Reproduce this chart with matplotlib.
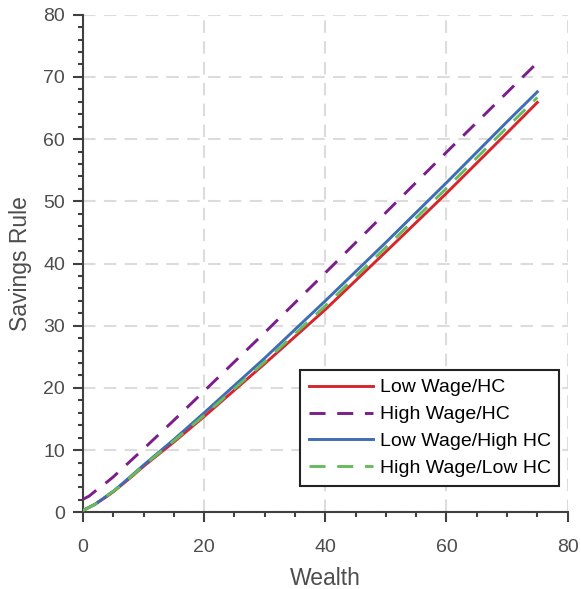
import numpy as np
import matplotlib.pyplot as plt
from matplotlib.ticker import MultipleLocator

# wealth grid and savings rules
wealth = [0, 1, 2, 4, 5, 6, 8, 10, 15, 20, 30, 40, 50, 60, 70, 75]

low_wage_hc = [0.3, 0.8, 1.3, 2.6, 3.3, 4.1, 5.7, 7.4, 11.3, 15.4, 23.9, 32.6,
               41.9, 51.3, 61.0, 65.9]
high_wage_hc = [2.1, 2.6, 3.4, 4.9, 5.7, 6.6, 8.4, 10.2, 14.8, 19.5, 28.9,
                38.5, 48.2, 57.9, 67.5, 72.3]
low_wage_high_hc = [0.35, 0.8, 1.3, 2.7, 3.4, 4.2, 5.9, 7.6, 11.7, 16.0, 24.8,
                    34.0, 43.4, 53.0, 62.8, 67.6]
high_wage_low_hc = [0.3, 0.8, 1.3, 2.7, 3.4, 4.1, 5.8, 7.5, 11.5, 15.6, 24.2,
                    33.2, 42.6, 52.1, 61.9, 66.7]

labels = ["Low Wage/HC", "High Wage/HC", "Low Wage/High HC", "High Wage/Low HC"]

plt.rcParams["font.family"] = ["Liberation Sans", "DejaVu Sans"]

txt_col = "#4d4d4d"
ax_col = "#404040"

fig = plt.figure(figsize=(5.81, 5.89), dpi=100)
ax = fig.add_axes([0.1429, 0.1302, 0.8341, 0.8448])

ax.plot(wealth, low_wage_hc, color="#d7262b", lw=2.1, label=labels[0], zorder=3)
ax.plot(wealth, high_wage_hc, color="#7b1e8c", lw=2.1, dashes=(5.5, 4),
        label=labels[1], zorder=3)
ax.plot(wealth, low_wage_high_hc, color="#3f6db3", lw=2.1, label=labels[2],
        zorder=3)
ax.plot(wealth, high_wage_low_hc, color="#66bb5e", lw=2.1, dashes=(5.5, 4),
        label=labels[3], zorder=3)

ax.set_xlim(0, 80)
ax.set_ylim(0, 80)
ax.xaxis.set_major_locator(MultipleLocator(20))
ax.xaxis.set_minor_locator(MultipleLocator(5))
ax.yaxis.set_major_locator(MultipleLocator(10))
ax.yaxis.set_minor_locator(MultipleLocator(2))

ax.grid(True, which="major", color="#dcdcdc", lw=1.5, dashes=(6, 4), zorder=0)
ax.set_axisbelow(True)

for s in ["top", "right"]:
    ax.spines[s].set_visible(False)
for s in ["left", "bottom"]:
    ax.spines[s].set_color(ax_col)
    ax.spines[s].set_linewidth(1.5)

ax.tick_params(which="major", direction="out", length=7, width=1.5,
               color=ax_col, labelsize=14, labelcolor=txt_col, pad=6)
ax.tick_params(which="minor", direction="out", length=3.6, width=1.5,
               color=ax_col)
ax.tick_params(axis="x", which="major", pad=12)

ax.set_xlabel("Wealth", fontsize=16.5, color=txt_col, labelpad=8)
ax.set_ylabel("Savings Rule", fontsize=16.5, color=txt_col, labelpad=8)

leg = ax.legend(loc="lower right", bbox_to_anchor=(0.9627, 0.1749),
                bbox_transform=fig.transFigure, borderaxespad=0,
                fontsize=14, handlelength=3.3, handletextpad=0.35,
                labelspacing=0.48, borderpad=0.45, fancybox=False,
                framealpha=1, edgecolor="#222222")
leg.get_frame().set_linewidth(1.5)

fig.savefig("out.png", dpi=100)
